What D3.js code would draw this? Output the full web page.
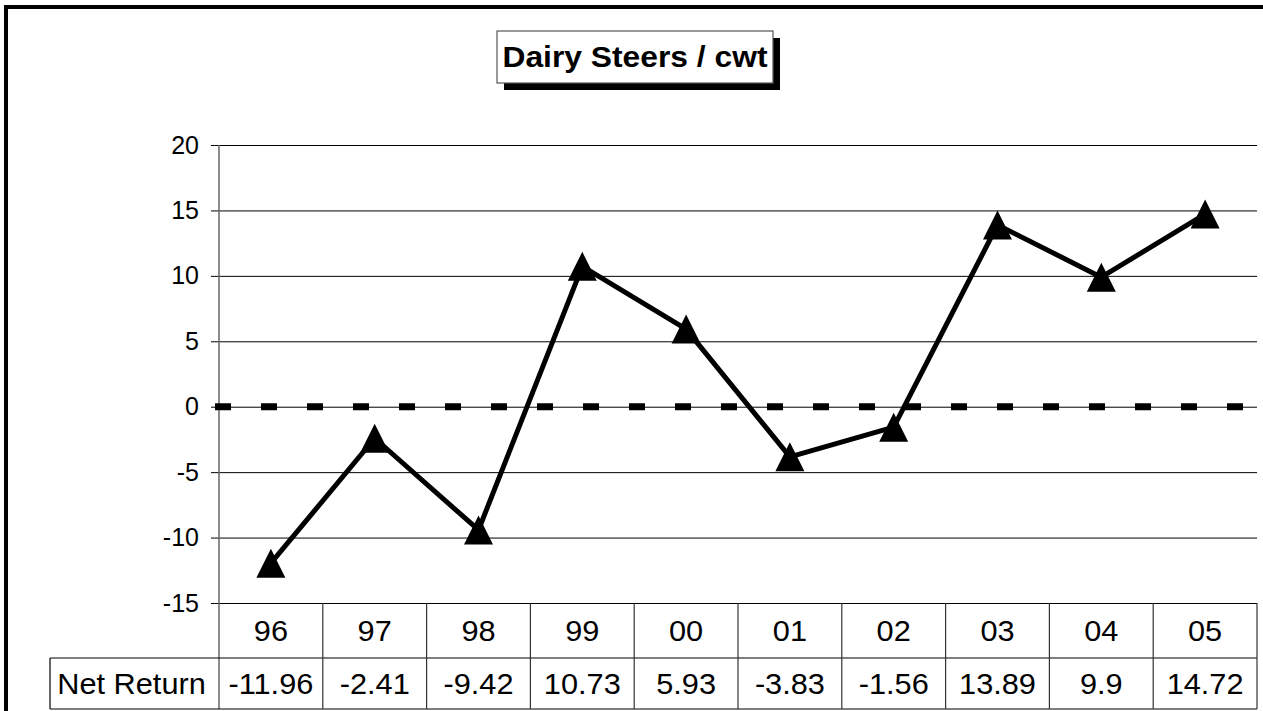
<!DOCTYPE html>
<html>
<head>
<meta charset="utf-8">
<script src="https://cdn.jsdelivr.net/npm/d3@7"></script>
<style>
  html, body { margin: 0; padding: 0; background: #fff; }
  svg { display: block; font-family: "Liberation Sans", Arial, Helvetica, sans-serif; }
</style>
</head>
<body>
<svg id="chart" width="1263" height="711"></svg>
<script>
// Net return per hundredweight for dairy steers, by year
const years = ["96", "97", "98", "99", "00", "01", "02", "03", "04", "05"];
const netReturn = [-11.96, -2.41, -9.42, 10.73, 5.93, -3.83, -1.56, 13.89, 9.9, 14.72];
const yTicks = [-15, -10, -5, 0, 5, 10, 15, 20];
const seriesName = "Net Return";
const title = "Dairy Steers / cwt";

const svg = d3.select("#chart");

const plot = { left: 219, right: 1257, top: 145, bottom: 603 };
const tableRowH = 55;
const tableBottom = 709;
const rowLabelLeft = 50;
const stretch = 1.06; // slightly wide lettering

const x = d3.scaleBand().domain(years).range([plot.left, plot.right]);
const y = d3.scaleLinear().domain([-15, 20]).range([plot.bottom, plot.top]);

// Places a horizontally widened text at (cx, cy)
function wideText(sel, cx, cy, size) {
  return sel
    .attr("x", 0).attr("y", 0)
    .attr("transform", `translate(${cx},${cy}) scale(${stretch},1)`)
    .attr("font-size", size)
    .attr("fill", "#000");
}

// Outer frame
svg.append("rect")
  .attr("x", 6).attr("y", 7)
  .attr("width", 1400).attr("height", 900)
  .attr("fill", "none").attr("stroke", "#000").attr("stroke-width", 4);

// Horizontal gridlines with tick labels
const yAxis = d3.axisLeft(y)
  .tickValues(yTicks)
  .tickSize(-(plot.right - plot.left))
  .tickSizeOuter(0)
  .tickPadding(20)
  .tickFormat(d => String(d));

const gy = svg.append("g")
  .attr("transform", `translate(${plot.left},0)`)
  .call(yAxis);
gy.select(".domain").remove();
gy.selectAll(".tick line")
  .attr("x1", -8)
  .attr("stroke", "#000").attr("stroke-width", 1);
gy.selectAll(".tick text")
  .attr("font-size", 25).attr("fill", "#000")
  .attr("font-family", "Liberation Sans, Arial, sans-serif");

// Vertical axis line running down through the data table
svg.append("line")
  .attr("x1", plot.left).attr("x2", plot.left)
  .attr("y1", plot.top).attr("y2", tableBottom)
  .attr("stroke", "#666").attr("stroke-width", 1.5);

// Zero reference line
svg.append("line")
  .attr("x1", 215).attr("x2", 1246)
  .attr("y1", y(0)).attr("y2", y(0))
  .attr("stroke", "#000").attr("stroke-width", 7)
  .attr("stroke-dasharray", "16 30");

// Data table
const table = svg.append("g");
const rowMid = plot.bottom + tableRowH;
table.append("line")
  .attr("x1", rowLabelLeft).attr("x2", plot.right)
  .attr("y1", rowMid).attr("y2", rowMid)
  .attr("stroke", "#000").attr("stroke-width", 1.2);
table.append("line")
  .attr("x1", rowLabelLeft).attr("x2", plot.right)
  .attr("y1", tableBottom).attr("y2", tableBottom)
  .attr("stroke", "#000").attr("stroke-width", 1.2);
table.append("line")
  .attr("x1", rowLabelLeft).attr("x2", rowLabelLeft)
  .attr("y1", rowMid).attr("y2", tableBottom)
  .attr("stroke", "#000").attr("stroke-width", 1.2);

table.selectAll("line.col")
  .data(years.slice(1).concat(["end"]))
  .join("line")
  .attr("class", "col")
  .attr("x1", (d, i) => i < years.length - 1 ? x(d) : plot.right)
  .attr("x2", (d, i) => i < years.length - 1 ? x(d) : plot.right)
  .attr("y1", plot.bottom).attr("y2", tableBottom)
  .attr("stroke", "#333").attr("stroke-width", 1.2);

table.selectAll("text.cat")
  .data(years)
  .join("text")
  .attr("class", "cat")
  .attr("text-anchor", "middle")
  .each(function (d) {
    wideText(d3.select(this), x(d) + x.bandwidth() / 2, 641, 29);
  })
  .text(d => d);

table.selectAll("text.val")
  .data(netReturn)
  .join("text")
  .attr("class", "val")
  .attr("text-anchor", "middle")
  .each(function (d, i) {
    wideText(d3.select(this), x(years[i]) + x.bandwidth() / 2, 694, 29);
  })
  .text(d => String(d));

wideText(table.append("text"), (rowLabelLeft + plot.left) / 2 - 3, 694, 29)
  .attr("text-anchor", "middle")
  .text(seriesName);

// Series line
const pts = netReturn.map((v, i) => [x(years[i]) + x.bandwidth() / 2, y(v)]);
svg.append("path")
  .datum(pts)
  .attr("d", d3.line())
  .attr("fill", "none")
  .attr("stroke", "#000")
  .attr("stroke-width", 5)
  .attr("stroke-linejoin", "round");

// Triangle markers
const triW = 29, triH = 29;
svg.selectAll("path.marker")
  .data(pts)
  .join("path")
  .attr("class", "marker")
  .attr("d", ([cx, cy]) =>
    `M${cx},${cy - triH / 2}L${cx + triW / 2},${cy + triH / 2}L${cx - triW / 2},${cy + triH / 2}Z`)
  .attr("fill", "#000");

// Title box with drop shadow
const tb = { x: 497, y: 31, w: 276, h: 52, off: 7 };
svg.append("rect")
  .attr("x", tb.x + tb.off).attr("y", tb.y + tb.off)
  .attr("width", tb.w).attr("height", tb.h)
  .attr("fill", "#000");
svg.append("rect")
  .attr("x", tb.x).attr("y", tb.y)
  .attr("width", tb.w).attr("height", tb.h)
  .attr("fill", "#fff").attr("stroke", "#555").attr("stroke-width", 1.2);
wideText(svg.append("text"), tb.x + tb.w / 2, 67, 30)
  .attr("text-anchor", "middle")
  .attr("font-weight", "bold")
  .text(title);
</script>
</body>
</html>
